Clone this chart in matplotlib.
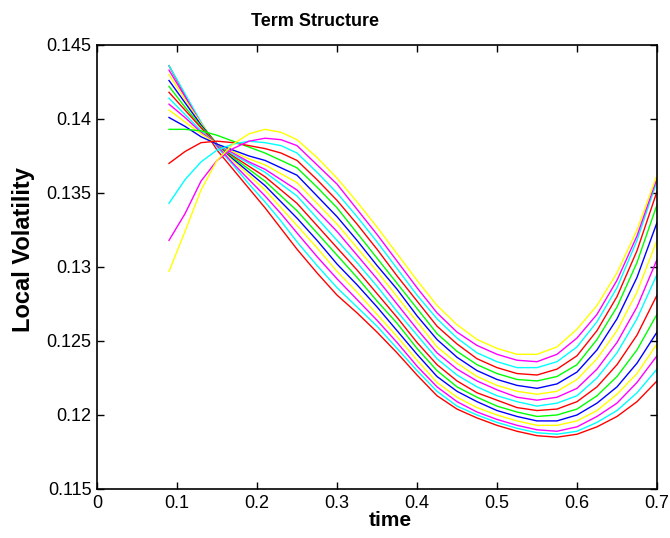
import matplotlib
matplotlib.use("Agg")
import matplotlib.pyplot as plt

plt.rcParams['font.family'] = ['Liberation Sans', 'DejaVu Sans']

# time grid (years)
time = [0.09, 0.11, 0.13, 0.15, 0.17, 0.19, 0.21, 0.23, 0.25, 0.275,
        0.30, 0.325, 0.35, 0.375, 0.40, 0.425, 0.45, 0.475, 0.50, 0.525,
        0.55, 0.575, 0.60, 0.625, 0.65, 0.675, 0.70]

# local volatility curves, one per strike
vol_01 = [.1436, .1416, .1396, .1379, .1366, .1353, .1340, .1326, .1312, .1296, .1281, .1269, .1256, .1242, .1227, .1213, .1204, .1198, .1193, .1189, .1186, .1185, .1187, .1192, .1199, .1209, .1223]
vol_02 = [.1436, .1417, .1398, .1381, .1369, .1356, .1344, .1331, .1317, .1301, .1286, .1273, .1260, .1245, .1230, .1216, .1206, .1200, .1195, .1191, .1188, .1187, .1189, .1195, .1203, .1215, .1231]
vol_03 = [.1433, .1415, .1397, .1382, .1370, .1359, .1348, .1336, .1323, .1307, .1292, .1278, .1264, .1249, .1233, .1219, .1209, .1202, .1197, .1193, .1190, .1189, .1192, .1199, .1208, .1222, .1240]
vol_04 = [.1430, .1413, .1397, .1383, .1372, .1362, .1352, .1340, .1328, .1313, .1297, .1283, .1268, .1253, .1237, .1222, .1212, .1205, .1200, .1196, .1193, .1193, .1196, .1203, .1214, .1228, .1248]
vol_05 = [.1426, .1411, .1396, .1383, .1373, .1364, .1355, .1344, .1333, .1318, .1302, .1288, .1273, .1257, .1241, .1226, .1216, .1209, .1203, .1199, .1196, .1196, .1200, .1208, .1219, .1235, .1256]
vol_06 = [.1422, .1408, .1395, .1383, .1374, .1366, .1358, .1348, .1338, .1323, .1308, .1293, .1277, .1262, .1245, .1230, .1219, .1212, .1206, .1202, .1199, .1200, .1204, .1213, .1226, .1244, .1268]
vol_07 = [.1418, .1406, .1394, .1383, .1375, .1368, .1361, .1352, .1343, .1328, .1313, .1298, .1282, .1266, .1249, .1234, .1223, .1215, .1210, .1205, .1203, .1204, .1209, .1219, .1234, .1254, .1281]
vol_08 = [.1414, .1403, .1392, .1383, .1376, .1370, .1364, .1356, .1348, .1333, .1318, .1303, .1287, .1270, .1254, .1238, .1227, .1219, .1213, .1209, .1206, .1208, .1213, .1225, .1242, .1265, .1295]
vol_09 = [.1410, .1401, .1391, .1383, .1377, .1371, .1366, .1359, .1352, .1338, .1324, .1308, .1292, .1275, .1258, .1242, .1231, .1223, .1217, .1212, .1210, .1212, .1218, .1231, .1249, .1273, .1305]
vol_10 = [.1406, .1398, .1390, .1383, .1378, .1373, .1369, .1363, .1357, .1343, .1329, .1313, .1297, .1280, .1263, .1246, .1235, .1226, .1220, .1216, .1214, .1216, .1224, .1238, .1257, .1283, .1318]
vol_11 = [.1401, .1395, .1388, .1383, .1379, .1375, .1372, .1367, .1362, .1348, .1334, .1318, .1301, .1285, .1267, .1251, .1239, .1230, .1224, .1220, .1218, .1221, .1229, .1244, .1265, .1293, .1330]
vol_12 = [.1393, .1393, .1392, .1389, .1385, .1381, .1377, .1372, .1367, .1354, .1340, .1323, .1306, .1289, .1272, .1255, .1243, .1234, .1228, .1224, .1223, .1226, .1234, .1251, .1273, .1303, .1342]
vol_13 = [.1370, .1378, .1384, .1385, .1384, .1382, .1380, .1377, .1372, .1359, .1345, .1329, .1312, .1294, .1277, .1260, .1248, .1238, .1232, .1228, .1227, .1231, .1240, .1257, .1280, .1311, .1351]
vol_14 = [.1343, .1359, .1371, .1379, .1383, .1385, .1384, .1382, .1377, .1364, .1350, .1334, .1317, .1299, .1281, .1265, .1252, .1242, .1236, .1232, .1232, .1236, .1246, .1263, .1286, .1318, .1358]
vol_15 = [.1318, .1336, .1358, .1372, .1380, .1385, .1387, .1386, .1382, .1369, .1356, .1339, .1322, .1304, .1286, .1269, .1256, .1247, .1241, .1237, .1236, .1241, .1252, .1268, .1291, .1321, .1360]
vol_16 = [.1297, .1324, .1352, .1372, .1383, .1390, .1393, .1391, .1386, .1374, .1360, .1344, .1327, .1309, .1291, .1274, .1261, .1251, .1245, .1241, .1241, .1246, .1258, .1274, .1296, .1325, .1362]

curves = [vol_01, vol_02, vol_03, vol_04, vol_05, vol_06, vol_07, vol_08,
          vol_09, vol_10, vol_11, vol_12, vol_13, vol_14, vol_15, vol_16]

# matlab style colour cycle
colors = ['#ff0000', '#00ffff', '#ff00ff', '#ffff00', '#0000ff', '#00ff00']

x_ticks = [0, 0.1, 0.2, 0.3, 0.4, 0.5, 0.6, 0.7]
y_ticks = [0.115, 0.12, 0.125, 0.13, 0.135, 0.14, 0.145]

fig = plt.figure(figsize=(6.7, 5.38), dpi=100)
ax = fig.add_axes([0.1448, 0.0911, 0.8358, 0.8253])

for i, v in enumerate(curves):
    ax.plot(time, v, color=colors[i % 6], lw=1.0)

ax.set_xlim(0, 0.7)
ax.set_ylim(0.115, 0.145)
ax.set_xticks(x_ticks)
ax.set_xticklabels(['%g' % t for t in x_ticks])
ax.set_yticks(y_ticks)
ax.set_yticklabels(['%g' % t for t in y_ticks])
ax.tick_params(direction='in', top=True, right=True, length=5, width=1,
               labelsize=13, pad=4)
for s in ax.spines.values():
    s.set_linewidth(1.2)

ax.set_title('Term Structure', fontsize=13, fontweight='bold', x=0.39, pad=14)
ax.set_xlabel('time', fontsize=15, fontweight='bold')
ax.set_ylabel('Local Volatility', fontsize=17, fontweight='bold')
ax.xaxis.set_label_coords(0.523, -0.05)
ax.yaxis.set_label_coords(-0.11, 0.54)

fig.savefig('out.png', dpi=100)
